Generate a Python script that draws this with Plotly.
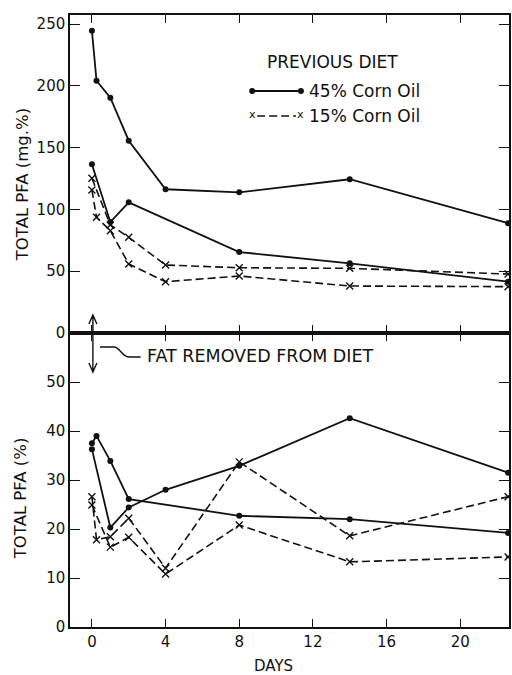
import plotly.graph_objects as go

# ---- data: days after fat was removed from the diet ----
# upper panel: total PFA, mg.%
top_45a_days = [0, 0.25, 1, 2, 4, 8, 14, 22.6]
top_45a_vals = [244.6, 204.1, 190.4, 155.6, 116.3, 113.8, 124.4, 88.8]
top_45b_days = [0, 1, 2, 8, 14, 22.6]
top_45b_vals = [136.5, 89.8, 105.7, 65.5, 56.4, 41.5]
top_15a_days = [0, 1, 2, 4, 8, 14, 22.6]
top_15a_vals = [125.2, 87.4, 77.4, 55.0, 52.8, 52.3, 47.7]
top_15b_days = [0, 0.25, 1, 2, 4, 8, 14, 22.6]
top_15b_vals = [115.7, 93.6, 82.8, 55.8, 41.5, 46.1, 38.0, 37.5]

# lower panel: total PFA, % of fatty acids
bot_45a_days = [0, 0.25, 1, 2, 8, 14, 22.6]
bot_45a_vals = [37.5, 39.0, 33.9, 26.1, 22.7, 22.0, 19.2]
bot_45b_days = [0, 1, 2, 4, 8, 14, 22.6]
bot_45b_vals = [36.3, 20.3, 24.4, 28.0, 32.9, 42.6, 31.5]
bot_15a_days = [0, 0.25, 1, 2, 4, 8, 14, 22.6]
bot_15a_vals = [26.6, 17.8, 18.4, 22.2, 12.0, 33.7, 18.6, 26.6]
bot_15b_days = [0, 1, 2, 4, 8, 14, 22.6]
bot_15b_vals = [24.9, 16.3, 18.3, 10.8, 20.8, 13.3, 14.3]

x_ticks = [0, 4, 8, 12, 16, 20]
top_ticks = [0, 50, 100, 150, 200, 250]
bot_ticks = [0, 10, 20, 30, 40, 50]

# ---- figure geometry (pixels) ----
W, H = 512, 675
ML, MR, MT, MB = 70, 1, 15, 48
PW, PH = W - ML - MR, H - MT - MB
SPLIT = 333  # pixel row of the shared border between the panels


def px(xp):
    return (xp - ML) / PW


def py(yp):
    return (H - MB - yp) / PH


split_frac = py(SPLIT)
INK = "#111111"
FONT = "DejaVu Sans"

solid_line = dict(color=INK, width=1.8)
dash_line = dict(color=INK, width=1.6, dash="8px,4px")
dot_marker = dict(symbol="circle", size=6, color=INK)
x_marker = dict(symbol="x-thin", size=7, line=dict(color=INK, width=1.4))

fig = go.Figure()

series = [
    (top_45a_days, top_45a_vals, "x", "y", True),
    (top_45b_days, top_45b_vals, "x", "y", True),
    (top_15a_days, top_15a_vals, "x", "y", False),
    (top_15b_days, top_15b_vals, "x", "y", False),
    (bot_45a_days, bot_45a_vals, "x2", "y2", True),
    (bot_45b_days, bot_45b_vals, "x2", "y2", True),
    (bot_15a_days, bot_15a_vals, "x2", "y2", False),
    (bot_15b_days, bot_15b_vals, "x2", "y2", False),
]
for d, v, xa, ya, solid in series:
    fig.add_trace(go.Scatter(
        x=d, y=v, xaxis=xa, yaxis=ya, mode="lines+markers",
        line=solid_line if solid else dash_line,
        marker=dot_marker if solid else x_marker,
        showlegend=False, hoverinfo="skip",
    ))

x_range = [-1.19, 22.65]
axis_common = dict(
    showline=True, linecolor=INK, linewidth=1.5, mirror="ticks",
    ticks="inside", tickcolor=INK, tickwidth=1.3, showgrid=False,
    zeroline=False, tickfont=dict(family=FONT, size=15, color=INK),
)

fig.update_layout(
    width=W, height=H,
    margin=dict(l=ML, r=MR, t=MT, b=MB),
    paper_bgcolor="white", plot_bgcolor="white",
    font=dict(family=FONT, color=INK),
    xaxis=dict(axis_common, domain=[0, 1], anchor="y", range=x_range,
               tickvals=x_ticks, showticklabels=False, ticklen=8),
    yaxis=dict(axis_common, domain=[split_frac, 1], anchor="x",
               range=[0, (SPLIT - MT) / 1.236], tickvals=top_ticks, ticklen=10),
    xaxis2=dict(axis_common, domain=[0, 1], anchor="y2", range=x_range,
                tickvals=x_ticks, ticklen=8),
    yaxis2=dict(axis_common, domain=[0, split_frac], anchor="x2",
                range=[0, 60], tickvals=bot_ticks, ticklen=10),
)


def label(text, xp, yp, size, anchor="left", angle=0):
    return dict(text=text, x=px(xp), y=py(yp), xref="paper", yref="paper",
                textangle=angle, showarrow=False, xanchor=anchor, yanchor="middle",
                font=dict(family=FONT, size=size, color=INK))


ann = [
    # axis titles
    label("TOTAL PFA (mg.%)", 22, 185, 16.5, "center", -90),
    label("TOTAL PFA (%)", 20, 498, 16.5, "center", -90),
    label("DAYS", 274, 666, 15, "center"),
    # legend block
    label("PREVIOUS DIET", 266, 62, 17),
    label("45% Corn Oil", 308, 91, 17),
    label("15% Corn Oil", 308, 116, 17),
    # note on the diet change
    label("FAT REMOVED FROM DIET", 145, 356, 17.5),
]
for xx in (253, 302):
    ann.append(label("x", xx, 115, 11, "center"))
fig.update_layout(annotations=ann)

shapes = []
# legend line samples
shapes.append(dict(type="line", xref="paper", yref="paper",
                   x0=px(253), x1=px(302), y0=py(91), y1=py(91),
                   line=dict(color=INK, width=1.8)))
for xx in (253, 302):
    shapes.append(dict(type="circle", xref="paper", yref="paper",
                       x0=px(xx - 3), x1=px(xx + 3), y0=py(94), y1=py(88),
                       fillcolor=INK, line=dict(color=INK, width=0)))
shapes.append(dict(type="line", xref="paper", yref="paper",
                   x0=px(258), x1=px(297), y0=py(116), y1=py(116),
                   line=dict(color=INK, width=1.6, dash="8px,4px")))


def pt(xp, yp):
    return f"{px(xp):.5f},{py(yp):.5f}"


# curved leader line to the note
leader = (f"M {pt(100, 347)} L {pt(114, 347)} "
          f"C {pt(121, 347)} {pt(121, 357)} {pt(130, 357)} L {pt(141, 357)}")
shapes.append(dict(type="path", xref="paper", yref="paper", path=leader,
                   line=dict(color=INK, width=1.4)))

# double-headed arrow marking day 0
ax = 93
arrow = (f"M {pt(ax, 315)} L {pt(ax, 372)} "
         f"M {pt(ax - 4, 324)} L {pt(ax, 315)} L {pt(ax + 4, 324)} "
         f"M {pt(ax - 4, 363)} L {pt(ax, 372)} L {pt(ax + 4, 363)}")
shapes.append(dict(type="path", xref="paper", yref="paper", path=arrow,
                   line=dict(color=INK, width=1.4)))
fig.update_layout(shapes=shapes)

fig.write_html("out.html")
